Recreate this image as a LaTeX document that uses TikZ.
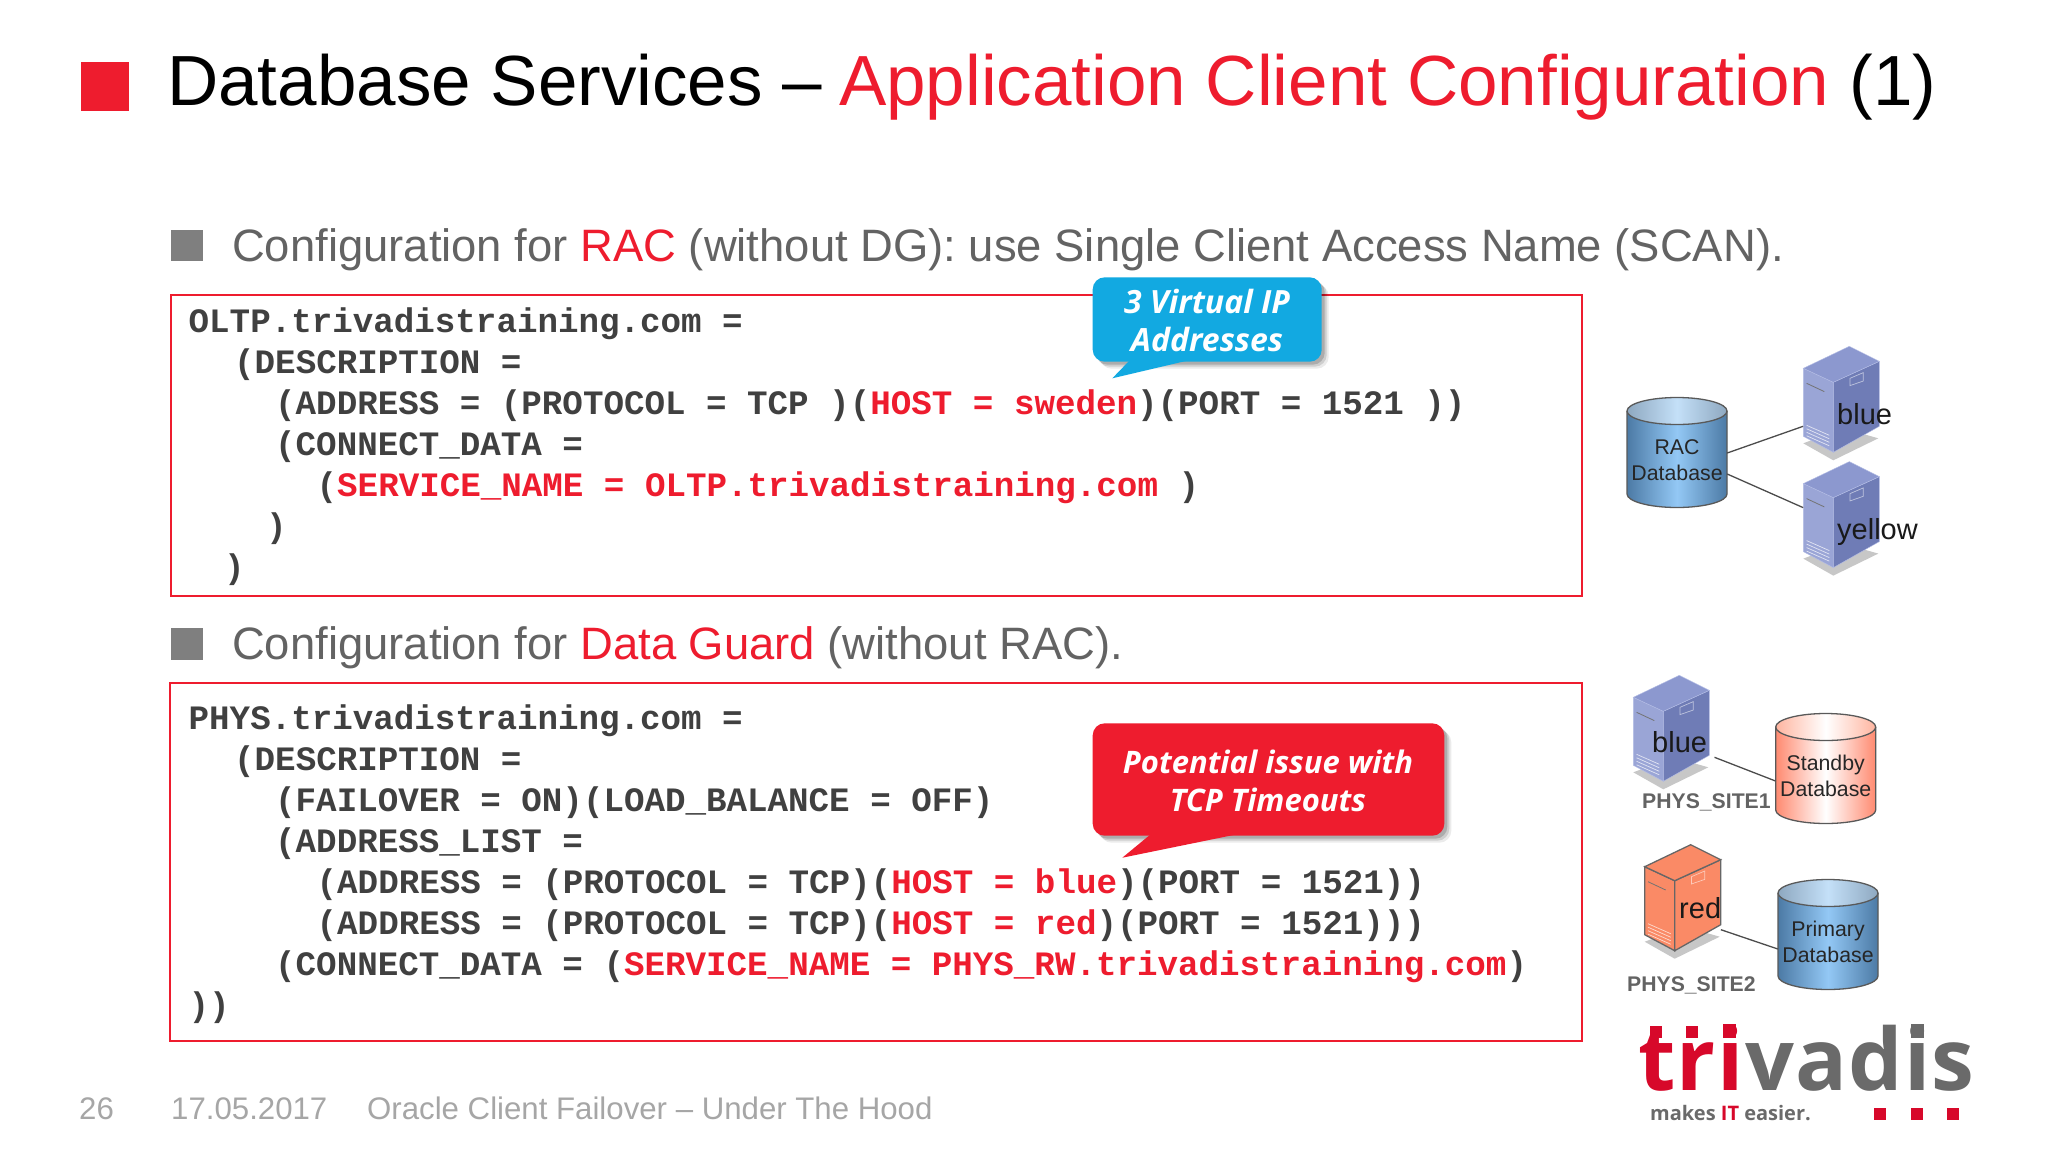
\documentclass[tikz,border=0pt]{standalone}
\usepackage{fontspec}
\setmainfont{Liberation Sans}
\newfontfamily\codefont{Liberation Mono}
\newfontfamily\logofont{Open Sans}
\definecolor{tvdred}{HTML}{EE1C2E}
\definecolor{logored}{HTML}{D7082A}
\definecolor{logogrey}{HTML}{6A6A6A}
\definecolor{bulletgrey}{HTML}{7F7F7F}
\definecolor{subgrey}{HTML}{636363}
\definecolor{codegrey}{HTML}{404040}
\definecolor{footgrey}{HTML}{A6A6A6}
\definecolor{calloutblue}{HTML}{12A9E1}
\definecolor{srvleft}{HTML}{9AA5D6}
\definecolor{srvright}{HTML}{6F7CB6}
\definecolor{srvtop}{HTML}{8C98CF}
\definecolor{srvedge}{HTML}{B5BEE6}
\definecolor{srvred}{HTML}{FA8A66}
\definecolor{dbblue}{HTML}{4C7AA5}
\definecolor{dbsky}{HTML}{93C8F5}
\definecolor{dbrim}{HTML}{8EA8C0}
\definecolor{dbpale}{HTML}{C4E0F8}
\definecolor{dbsalmon}{HTML}{FF8A70}
\definecolor{dbpeach}{HTML}{FFB5A0}
\newcommand{\fs}[2][26]{\fontsize{#2}{#1}\selectfont}
\newcommand{\rd}[1]{\textcolor{tvdred}{#1}}
\tikzset{
  titletext/.style={anchor=base west,inner sep=0pt,font=\fs{71}},
  subtext/.style={anchor=base west,inner sep=0pt,text=subgrey,font=\fs{45.4}},
  bulletbox/.style={fill=bulletgrey,draw=none},
  codebox/.style={draw=tvdred,line width=1.8pt},
  codeline/.style={anchor=base west,inner sep=0pt,text=codegrey,font=\codefont\bfseries\fs{34.2}},
  foottext/.style={anchor=base west,inner sep=0pt,text=footgrey,font=\fs{31.2}},
  calltext/.style={inner sep=0pt,text=white,align=center,font=\logofont\bfseries\itshape\fs{31}},
  dblabel/.style={inner sep=0pt,align=center,text=black!85,font=\fs{21.3}},
  srvlabel/.style={anchor=base west,inner sep=0pt,text=black!90,font=\fs{29}},
  sitelabel/.style={anchor=base west,inner sep=0pt,text=subgrey,font=\bfseries\fs{21.2}},
  logotext/.style={anchor=base west,inner sep=0pt,font=\logofont\addfontfeature{LetterSpace=1.5}\bfseries\fs{86}},
  link/.style={draw=black!70,line width=1.3pt},
  pics/dbase/.style n args={4}{code={
    \path[left color=#1,right color=#1,middle color=#2]
      (-50,-50) -- (-50,33) arc[start angle=180,end angle=360,x radius=50pt,y radius=13.5pt] -- (50,-50) -- cycle;
    \draw[black!65,line width=1.3pt]
      (-50,-50) -- (-50,33) arc[start angle=180,end angle=360,x radius=50pt,y radius=13.5pt] -- (50,-50);
    \draw[black!65,line width=1.3pt,left color=#3,right color=#3,middle color=#4]
      (0,-50) ellipse[x radius=50pt,y radius=13.5pt];
    \node[inner sep=0pt,minimum width=100pt] (-n) at (0,0) {};
  }},
  pics/server/.style n args={4}{code={
    \fill[black!22] (0,75) -- (30,92) -- (75,70) -- (40,60) -- cycle;
    \draw[#4,fill=#1] (0,0) -- (30,14) -- (30,84) -- (0,68) -- cycle;
    \draw[#4,fill=#2] (30,14) -- (76,-7) -- (76,58) -- (30,84) -- cycle;
    \draw[#4,fill=#3] (0,0) -- (46,-22) -- (76,-7) -- (30,14) -- cycle;
    \draw[black!55,line width=.8pt] (3.3,15) -- (21,23.3);
    \foreach \v in {57,60.5,64,67.5} \draw[white!70!#1,line width=.7pt] (3.3,\v) -- (26,\v+10);
    \draw[white!55!#2,line width=.7pt] (46.7,10) -- (60,4.3) -- (60,12.7) -- (46.7,17.3) -- cycle;
    \node[inner sep=0pt,minimum width=76pt,minimum height=106pt] (-n) at (38,31) {};
  }},
}
\begin{document}
\begin{tikzpicture}[x=1pt,y=-1pt]
  \useasboundingbox[fill=white] (0,0) rectangle (2048,1152);

  % title
  \fill[tvdred] (80.5,62) rectangle (129,111);
  \node[titletext] (title) at (167,105) {Database Services --\kern-3pt{} \rd{Application Client Configuration} (1)};

  % first block
  \fill[bulletbox] (171,230) rectangle (203,261);
  \node[subtext] (sub1) at (232,261) {Configuration for \rd{RAC} (without DG): use Single Client Access Name (SCAN).};
  \draw[codebox] (171,295) rectangle (1582,596);
  \node[codeline] (a1) at (188.5,332) {OLTP.trivadistraining.com =};
  \node[codeline] (a2) at (234,373) {(DESCRIPTION =};
  \node[codeline] (a3) at (275,414) {(ADDRESS = (PROTOCOL = TCP )(\rd{HOST = sweden})(PORT = 1521 ))};
  \node[codeline] (a4) at (275,455) {(CONNECT\_DATA =};
  \node[codeline] (a5) at (316.5,496) {(\rd{SERVICE\_NAME = OLTP.trivadistraining.com} )};
  \node[codeline] (a6) at (266,537) {)};
  \node[codeline] (a7) at (224,578) {)};

  % second block
  \fill[bulletbox] (171,628) rectangle (203,660);
  \node[subtext] (sub2) at (232,659.5) {Configuration for \rd{Data Guard} (without RAC).};
  \draw[codebox] (170,683) rectangle (1582,1041);
  \node[codeline] (b1) at (188.5,729.5) {PHYS.trivadistraining.com =};
  \node[codeline] (b2) at (234,770.5) {(DESCRIPTION =};
  \node[codeline] (b3) at (275,811.5) {(FAILOVER = ON)(LOAD\_BALANCE = OFF)};
  \node[codeline] (b4) at (275,852.5) {(ADDRESS\_LIST =};
  \node[codeline] (b5) at (316.5,893.5) {(ADDRESS = (PROTOCOL = TCP)(\rd{HOST = blue})(PORT = 1521))};
  \node[codeline] (b6) at (316.5,934.5) {(ADDRESS = (PROTOCOL = TCP)(\rd{HOST = red})(PORT = 1521)))};
  \node[codeline] (b7) at (275,975.5) {(CONNECT\_DATA = (\rd{SERVICE\_NAME = PHYS\_RW.trivadistraining.com})};
  \node[codeline] (b8) at (188.5,1016.5) {))};

  % callouts
  \foreach \d/\o in {7/.08,5/.12,3/.16}
    \fill[black,opacity=\o,rounded corners=12pt] (1092.7+\d,277.3+\d) rectangle (1321.7+\d,361.7+\d);
  \fill[calloutblue,rounded corners=12pt] (1092.7,277.3) rectangle (1321.7,361.7);
  \fill[calloutblue] (1130,360) -- (1112.3,378.3) -- (1190,360) -- cycle;
  \node[calltext,font=\logofont\bfseries\itshape\fs{32}] (vip1) at (1207,301.5) {3 Virtual IP};
  \node[calltext,font=\logofont\bfseries\itshape\fs{32}] (vip2) at (1207,339) {Addresses};

  \foreach \d/\o in {7/.08,5/.12,3/.16}
    \fill[black,opacity=\o,rounded corners=12pt] (1092.7+\d,723.3+\d) rectangle (1444.3+\d,835.7+\d);
  \fill[tvdred,rounded corners=12pt] (1092.7,723.3) rectangle (1444.3,835.7);
  \fill[tvdred] (1151,834) -- (1122.3,857.7) -- (1238.3,834) -- cycle;
  \node[calltext] (tcp1) at (1268,762) {Potential issue with};
  \node[calltext] (tcp2) at (1268,800) {TCP Timeouts};

  % RAC sketch
  \pic (rac) at (1677,461) {dbase={dbblue}{dbsky}{dbrim}{dbpale}};
  \node[dblabel] (lrac) at (1677,460) {RAC\\Database};
  \pic (blueA) at (1803.3,368.3) {server={srvleft}{srvright}{srvtop}{srvedge}};
  \pic (yellow) at (1803.3,483.6) {server={srvleft}{srvright}{srvtop}{srvedge}};
  \draw[link] ([yshift=8pt]rac-n.east) -- ([yshift=-27pt]blueA-n.west);
  \draw[link] ([yshift=-13pt]rac-n.east) -- ([yshift=7pt]yellow-n.west);
  \node[srvlabel] (lblue) at (1837,424) {blue};
  \node[srvlabel] (lyellow) at (1837,539) {yellow};

  % Data Guard sketch
  \pic (blueB) at (1633.3,697.3) {server={srvleft}{srvright}{srvtop}{srvedge}};
  \pic (redA) at (1644.7,866.7) {server={srvred}{srvred}{srvred}{black!60,line width=1.3pt}};
  \pic (standby) at (1825.7,777) {dbase={dbsalmon}{white}{dbpeach}{white}};
  \pic (primary) at (1828,943) {dbase={dbblue}{dbsky}{dbrim}{dbpale}};
  \node[dblabel] (lstandby) at (1825.7,776) {Standby\\Database};
  \node[dblabel] (lprimary) at (1828,942) {Primary\\Database};
  \draw[link] ([xshift=5pt,yshift=-29pt]blueB-n.east) -- ([yshift=-4pt]standby-n.west);
  \draw[link] ([yshift=-32pt]redA-n.east) -- ([yshift=-6pt]primary-n.west);
  \node[srvlabel] (lblueB) at (1652,752.7) {blue};
  \node[srvlabel] (lred) at (1679,918) {red};
  \node[sitelabel] (site1) at (1642,808) {PHYS\_SITE1};
  \node[sitelabel] (site2) at (1627,991) {PHYS\_SITE2};

  % logo
  \node[logotext,text=logored] (logotri) at (1638,1090) {tri};
  \node[logotext,text=logogrey] (logovadis) at (1745,1090) {vadis};
  \fill[logored] (1650,1026) rectangle (1662,1038);
  \fill[logored] (1686,1026) rectangle (1698,1038);
  \fill[logored] (1723,1024) rectangle (1736,1038);
  \fill[logogrey] (1911,1024) rectangle (1924,1038);
  \node[anchor=base west,inner sep=0pt,text=logogrey,font=\logofont\bfseries\fs{20}] (slogan) at (1650,1120)
    {makes \textcolor{logored}{IT} easier.};
  \fill[logored] (1874,1108) rectangle (1886,1120);
  \fill[logored] (1911,1108) rectangle (1923,1120);
  \fill[logored] (1947,1108) rectangle (1959,1120);

  % footer
  \node[foottext] (page) at (79,1119) {26};
  \node[foottext] (date) at (171,1119) {17.05.2017};
  \node[foottext] (talk) at (367,1119) {Oracle Client Failover -- Under The Hood};
\end{tikzpicture}
\end{document}
